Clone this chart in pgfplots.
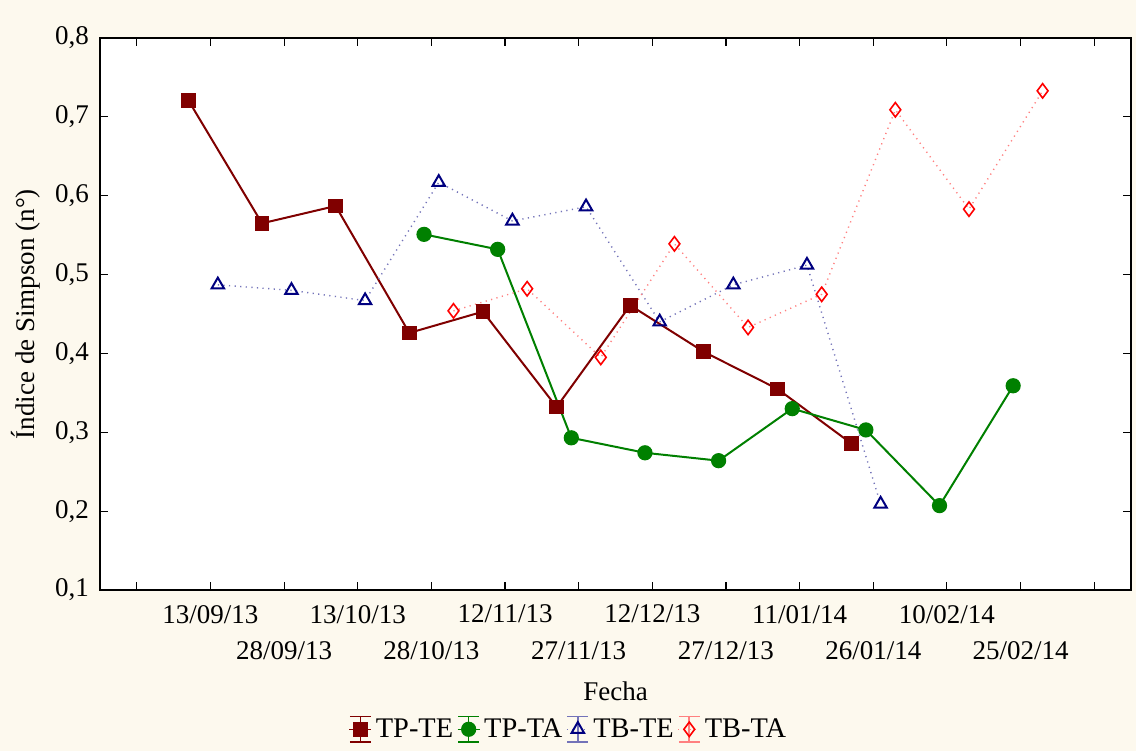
\documentclass[border=0pt]{standalone}
\usepackage{pgfplots}
\pgfplotsset{compat=1.18}
\usepackage{fontspec}
\setmainfont{Liberation Serif}
\usetikzlibrary{backgrounds}

\definecolor{cream}{HTML}{FDF9EE}
\definecolor{tpte}{HTML}{800000}
\definecolor{tpta}{HTML}{008000}
\definecolor{tbte}{HTML}{000080}
\definecolor{tbta}{HTML}{FF0000}

% legend icon: an error-bar style I-beam with the series mark in the middle
\pgfplotsset{
  ibeam legend/.style={
    legend image code/.code={
      \draw[#1,solid,line width=0.8pt] (5.5pt,-6.3pt) -- (5.5pt,6.3pt);
      \draw[#1,solid,line width=0.8pt] (0.3pt,6.3pt) -- (10.7pt,6.3pt);
      \draw[#1,solid,line width=0.8pt] (0.3pt,-6.3pt) -- (10.7pt,-6.3pt);
      \draw[#1,line width=0.5pt] (0pt,0pt) -- (11pt,0pt);
      \draw[#1,draw=none] plot coordinates {(5.5pt,0pt)};
    }
  }
}

\begin{document}
\begin{tikzpicture}
\useasboundingbox (-50pt,-80.5pt) rectangle (518pt,295pt);
\begin{axis}[
  at={(0,0)}, anchor=south west,
  scale only axis, width=515.5pt, height=276pt,
  axis background/.style={fill=white},
  font=\fontsize{13.5}{15.5}\selectfont,
  xmin=-1.5, xmax=12.5,
  ymin=0.1, ymax=0.8,
  xtick={-1,0,...,12},
  xticklabels={,13/09/13,{\rule{0pt}{2em}28/09/13},13/10/13,{\rule{0pt}{2em}28/10/13},
    12/11/13,{\rule{0pt}{2em}27/11/13},12/12/13,{\rule{0pt}{2em}27/12/13},
    11/01/14,{\rule{0pt}{2em}26/01/14},10/02/14,{\rule{0pt}{2em}25/02/14},},
  xticklabel style={anchor=north, yshift=-4pt},
  ytick={0.1,0.2,...,0.8},
  /pgf/number format/fixed,
  /pgf/number format/fixed zerofill,
  /pgf/number format/precision=1,
  /pgf/number format/use comma,
  /pgf/number format/assume math mode=true,
  yticklabel style={xshift=-2pt},
  tick align=inside,
  major tick length=4pt,
  tick style={black, line width=0.6pt},
  axis line style={line width=0.8pt},
  xlabel={Fecha},
  xlabel style={at={(axis description cs:0.5,0)}, anchor=base, yshift=-55pt},
  ylabel={Índice de Simpson (n°)},
  ylabel style={at={(axis description cs:-0.0718,0.5)}, anchor=center},
  legend columns=4,
  legend style={at={(axis description cs:0.5,0)}, anchor=north, xshift=-23pt, yshift=-62pt,
    draw=none, fill=none, font=\fontsize{14.2}{16}\selectfont,
    /tikz/every even column/.append style={column sep=0pt},
    inner sep=0pt},
  legend cell align=left,
  ibeam legend,
  clip=false,
]
% TP-TE
\addplot[tpte, line width=1pt, mark=square*, mark size=3.2pt, mark options={solid}]
  coordinates {(-0.3,0.721) (0.7,0.565) (1.7,0.587) (2.7,0.426) (3.7,0.453)
               (4.7,0.332) (5.7,0.461) (6.7,0.402) (7.7,0.355) (8.7,0.286)};
\addlegendentry{TP-TE}
% TP-TA
\addplot[tpta, line width=1pt, mark=*, mark size=3.3pt, mark options={solid}]
  coordinates {(2.9,0.551) (3.9,0.532) (4.9,0.293) (5.9,0.274) (6.9,0.264)
               (7.9,0.330) (8.9,0.303) (9.9,0.207) (10.9,0.359)};
\addlegendentry{TP-TA}
% TB-TE
\addplot[tbte!55, line width=0.7pt, dash pattern=on 0.6pt off 2.2pt,
  mark=triangle, mark size=3.6pt, mark options={solid, draw=tbte, line width=1pt}]
  coordinates {(0.1,0.487) (1.1,0.480) (2.1,0.467) (3.1,0.617) (4.1,0.568)
               (5.1,0.586) (6.1,0.440) (7.1,0.487) (8.1,0.512) (9.1,0.209)};
\addlegendentry{TB-TE}
% TB-TA
\addplot[tbta!50, line width=0.7pt, dash pattern=on 0.6pt off 2.2pt,
  mark=diamond, mark size=3.6pt, mark options={solid, draw=tbta, line width=0.8pt}]
  coordinates {(3.3,0.454) (4.3,0.482) (5.3,0.395) (6.3,0.539) (7.3,0.433)
               (8.3,0.475) (9.3,0.709) (10.3,0.583) (11.3,0.733)};
\addlegendentry{TB-TA}
\end{axis}
\begin{scope}[on background layer]
  \fill[cream] (-50pt,-80.5pt) rectangle (518pt,295pt);
\end{scope}
\end{tikzpicture}
\end{document}
